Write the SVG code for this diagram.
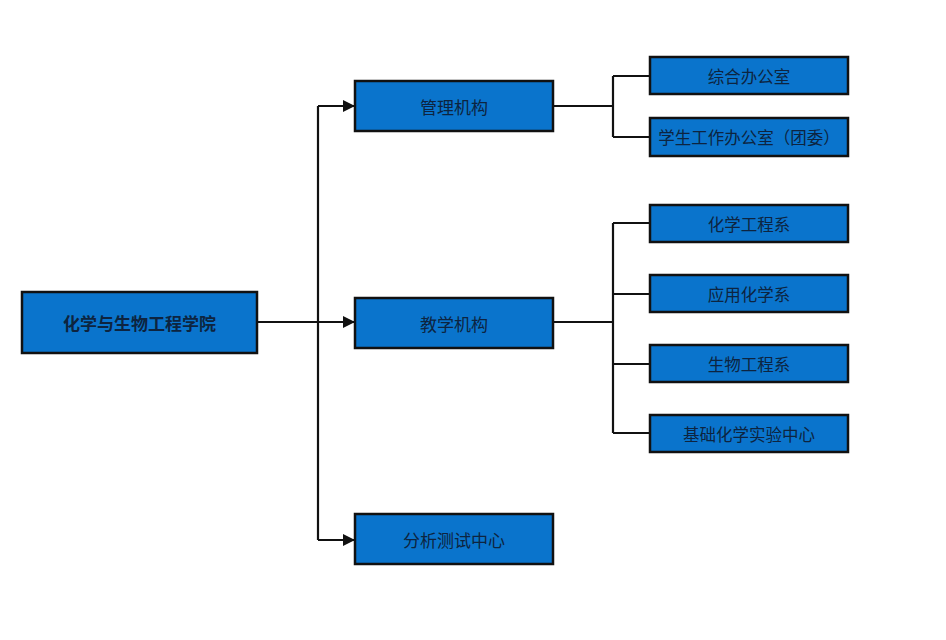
<svg xmlns="http://www.w3.org/2000/svg" width="946" height="640" viewBox="0 0 946 640">
<defs>
<marker id="arr" markerWidth="12" markerHeight="12" refX="11" refY="6" orient="auto" markerUnits="userSpaceOnUse">
<path d="M0,0 L12,6 L0,12 Z" fill="#111"/>
</marker>
<style>
.box{fill:#0a74cc;stroke:#111;stroke-width:2.5}
.t{font-family:"Noto Sans CJK SC","Liberation Sans",sans-serif;fill:#0d2440;text-anchor:middle;dominant-baseline:central}
.m{font-size:17px}
.s{font-size:16.5px}
.r{font-size:17px;font-weight:bold}
.ln{fill:none;stroke:#111;stroke-width:2.2}
</style>
</defs>
<rect width="946" height="640" fill="#fff"/>
<g id="connectors">
<path class="ln" d="M257,322 H318"/>
<path class="ln" d="M318,540 V106"/>
<path class="ln" d="M318,106 H354" marker-end="url(#arr)"/>
<path class="ln" d="M318,322 H354" marker-end="url(#arr)"/>
<path class="ln" d="M318,540 H354" marker-end="url(#arr)"/>
<path class="ln" d="M553,106 H613 M613,76 V137 M613,76 H650 M613,137 H650"/>
<path class="ln" d="M553,322 H613 M613,223 V433 M613,223 H650 M613,294 H650 M613,364 H650 M613,433 H650"/>
</g>
<g id="root"><rect class="box" x="22" y="292" width="235" height="61"/><text class="t r" x="139.5" y="322.5">化学与生物工程学院</text></g>
<g id="guanli"><rect class="box" x="355" y="81" width="198" height="50"/><text class="t m" x="454" y="106">管理机构</text></g>
<g id="jiaoxue"><rect class="box" x="355" y="298" width="198" height="50"/><text class="t m" x="454" y="323">教学机构</text></g>
<g id="fenxi"><rect class="box" x="355" y="514" width="198" height="50"/><text class="t m" x="454" y="539">分析测试中心</text></g>
<g id="zonghe"><rect class="box" x="650" y="57" width="198" height="37"/><text class="t s" x="749" y="75.5">综合办公室</text></g>
<g id="xuesheng"><rect class="box" x="650" y="118" width="198" height="38"/><text class="t s" x="749" y="137">学生工作办公室（团委）</text></g>
<g id="huagong"><rect class="box" x="650" y="205" width="198" height="37"/><text class="t s" x="749" y="223.5">化学工程系</text></g>
<g id="yinghua"><rect class="box" x="650" y="275" width="198" height="37"/><text class="t s" x="749" y="293.5">应用化学系</text></g>
<g id="shengwu"><rect class="box" x="650" y="345" width="198" height="37"/><text class="t s" x="749" y="363.5">生物工程系</text></g>
<g id="jichu"><rect class="box" x="650" y="415" width="198" height="37"/><text class="t s" x="749" y="433.5">基础化学实验中心</text></g>
</svg>
